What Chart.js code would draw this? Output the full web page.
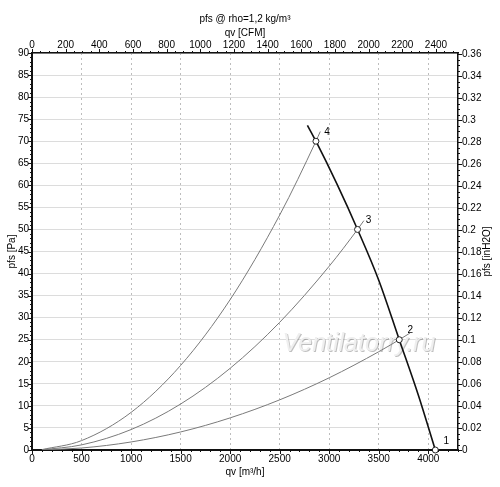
<!DOCTYPE html>
<html>
<head>
<meta charset="utf-8">
<script src="https://cdn.jsdelivr.net/npm/chart.js@4.4.0/dist/chart.umd.min.js"></script>
<style>
  html, body { margin: 0; padding: 0; background: #fff; }
  #wrap { width: 500px; height: 487px; }
</style>
</head>
<body>
<div id="wrap"><canvas id="chart" width="500" height="487"></canvas></div>
<script>
// axis ticks
const qvTicks = [0, 500, 1000, 1500, 2000, 2500, 3000, 3500, 4000];
const cfmTicks = [0, 200, 400, 600, 800, 1000, 1200, 1400, 1600, 1800, 2000, 2200, 2400];
const paTicks = [0, 5, 10, 15, 20, 25, 30, 35, 40, 45, 50, 55, 60, 65, 70, 75, 80, 85, 90];
const inTicks = [0, 0.02, 0.04, 0.06, 0.08, 0.1, 0.12, 0.14, 0.16, 0.18, 0.2, 0.22, 0.24,
                 0.26, 0.28, 0.3, 0.32, 0.34, 0.36];

// fan curve (qv m3/h, pfs Pa)
const fanQ = [2780, 2866, 3080, 3286, 3500, 3707, 3900, 4071];
const fanP = [73.6, 70, 60.2, 50, 38.5, 25, 12.4, 0];

// system curves
const sys4Q = [100, 500, 1000, 1500, 2000, 2500, 2866, 2910];
const sys4P = [0.09, 2.13, 8.52, 19.17, 34.09, 53.26, 70, 72.2];
const sys3Q = [100, 500, 1000, 1500, 2000, 2500, 3000, 3286, 3350];
const sys3P = [0.05, 1.16, 4.63, 10.42, 18.52, 28.94, 41.67, 50, 52.0];
const sys2Q = [100, 500, 1000, 1500, 2000, 2500, 3000, 3500, 3707, 3815];
const sys2P = [0.02, 0.45, 1.82, 4.09, 7.28, 11.37, 16.37, 22.28, 25, 26.5];

// operating points
const pointNames = ['1', '2', '3', '4'];
const pointQ = [4071, 3707, 3286, 2866];
const pointP = [0, 25, 50, 70];

const QV_MAX = 4300;
const PA_MAX = 90;
const M3H_PER_CFM = 1.699;
const PA_PER_INH2O = 249.089;

const fontFam = '"Liberation Sans", Arial, sans-serif';
const font = { family: fontFam, size: 10 };
const ink = '#111';
const plain = v => String(+v.toFixed(2));

function xy(qs, ps) {
    return qs.map((q, i) => ({ x: q, y: ps[i] }));
}

const extras = {
    id: 'extras',
    beforeDatasetsDraw(chart) {
        const { ctx, scales } = chart;
        ctx.save();
        ctx.font = 'italic 25px ' + fontFam;
        ctx.textAlign = 'center';
        ctx.textBaseline = 'middle';
        ctx.shadowColor = 'rgba(0,0,0,0.25)';
        ctx.shadowOffsetX = 1;
        ctx.shadowOffsetY = 1;
        ctx.fillStyle = '#efefef';
        ctx.fillText('Ventilatorry.ru', scales.x.getPixelForValue(3300), scales.y.getPixelForValue(24));
        ctx.restore();
    },
    afterDraw(chart) {
        const { ctx, chartArea: a, scales } = chart;
        ctx.save();
        ctx.strokeStyle = ink;
        ctx.lineWidth = 1;
        ctx.beginPath();
        // minor / major tick marks, outward
        for (let i = 0; i * 100 <= QV_MAX; i++) {
            const px = Math.round(scales.x.getPixelForValue(i * 100)) + 0.5;
            const len = i % 5 === 0 ? 4 : 2;
            ctx.moveTo(px, a.bottom); ctx.lineTo(px, a.bottom + len);
        }
        for (let i = 0; i * 50 <= scales.x2.max; i++) {
            const px = Math.round(scales.x2.getPixelForValue(i * 50)) + 0.5;
            const len = i % 4 === 0 ? 4 : 2;
            ctx.moveTo(px, a.top); ctx.lineTo(px, a.top - len);
        }
        for (let i = 0; i <= PA_MAX; i++) {
            const py = Math.round(scales.y.getPixelForValue(i)) + 0.5;
            const len = i % 5 === 0 ? 4 : 2;
            ctx.moveTo(a.left, py); ctx.lineTo(a.left - len, py);
        }
        for (let i = 0; i * 0.005 <= scales.y2.max; i++) {
            const py = Math.round(scales.y2.getPixelForValue(i * 0.005)) + 0.5;
            const len = i % 4 === 0 ? 4 : 2;
            ctx.moveTo(a.right, py); ctx.lineTo(a.right + len, py);
        }
        ctx.stroke();

        // point numbers
        ctx.fillStyle = '#000';
        ctx.font = '10px ' + fontFam;
        ctx.textAlign = 'center';
        ctx.textBaseline = 'middle';
        pointNames.forEach((n, i) => {
            const px = scales.x.getPixelForValue(pointQ[i]);
            const py = scales.y.getPixelForValue(pointP[i]);
            ctx.fillText(n, px + 11, py - 9);
        });

        // right axis title, reading bottom to top
        ctx.translate(a.right + 29, (a.top + a.bottom) / 2);
        ctx.rotate(-Math.PI / 2);
        ctx.fillText('pfs [inH2O]', 0, 0);
        ctx.restore();
    }
};

const sysLine = {
    borderColor: '#7a7a7a',
    borderWidth: 1,
    pointRadius: 0,
    cubicInterpolationMode: 'monotone',
    order: 2
};

new Chart(document.getElementById('chart'), {
    type: 'line',
    data: {
        datasets: [
            {
                data: xy(pointQ, pointP),
                showLine: false,
                pointRadius: 3,
                pointBackgroundColor: '#fff',
                pointBorderColor: '#222',
                pointBorderWidth: 1,
                clip: false,
                order: 0
            },
            {
                data: xy(fanQ, fanP),
                borderColor: ink,
                borderWidth: 1.6,
                pointRadius: 0,
                cubicInterpolationMode: 'monotone',
                order: 1
            },
            Object.assign({ data: xy(sys4Q, sys4P) }, sysLine),
            Object.assign({ data: xy(sys3Q, sys3P) }, sysLine),
            Object.assign({ data: xy(sys2Q, sys2P) }, sysLine)
        ]
    },
    options: {
        responsive: false,
        animation: false,
        devicePixelRatio: 1,
        layout: { padding: 0 },
        plugins: { legend: { display: false }, tooltip: { enabled: false }, title: { display: false } },
        scales: {
            x: {
                type: 'linear', position: 'bottom', min: 0, max: QV_MAX,
                afterBuildTicks: s => { s.ticks = qvTicks.map(v => ({ value: v })); },
                afterFit: s => { s.height = 37; },
                grid: { color: '#bdbdbd', lineWidth: 1, drawTicks: false },
                border: { display: true, color: ink, width: 2, dash: [2, 3] },
                ticks: { font, color: '#000', padding: 3, maxRotation: 0, autoSkip: false, callback: plain },
                title: { display: true, text: 'qv [m³/h]', font, color: '#000', padding: { top: 0, bottom: 9 } }
            },
            x2: {
                type: 'linear', position: 'top', min: 0, max: QV_MAX / M3H_PER_CFM,
                afterBuildTicks: s => { s.ticks = cfmTicks.map(v => ({ value: v })); },
                afterFit: s => { s.height = 53; },
                grid: { drawOnChartArea: false, drawTicks: false },
                border: { display: true, color: ink, width: 1.5 },
                ticks: { font, color: '#000', padding: 2, maxRotation: 0, autoSkip: false, callback: plain },
                title: {
                    display: true, text: ['pfs @ rho=1,2 kg/m³', 'qv [CFM]'],
                    font: { family: fontFam, size: 10, lineHeight: 1.4 }, color: '#000',
                    padding: { top: 12, bottom: 0 }
                }
            },
            y: {
                type: 'linear', position: 'left', min: 0, max: PA_MAX,
                afterBuildTicks: s => { s.ticks = paTicks.map(v => ({ value: v })); },
                afterFit: s => { s.width = 32; },
                grid: { color: '#dcdcdc', lineWidth: 1, drawTicks: false },
                border: { display: true, color: ink, width: 2 },
                ticks: { font, color: '#000', padding: 3, autoSkip: false, callback: plain },
                title: { display: true, text: 'pfs [Pa]', font, color: '#000', padding: { top: 6, bottom: 0 } }
            },
            y2: {
                type: 'linear', position: 'right', min: 0, max: PA_MAX / PA_PER_INH2O,
                afterBuildTicks: s => { s.ticks = inTicks.map(v => ({ value: v })); },
                afterFit: s => { s.width = 42; },
                grid: { drawOnChartArea: false, drawTicks: false },
                border: { display: true, color: ink, width: 1.5 },
                ticks: { font, color: '#000', padding: 4, autoSkip: false, callback: plain }
            }
        }
    },
    plugins: [extras]
});
</script>
</body>
</html>
